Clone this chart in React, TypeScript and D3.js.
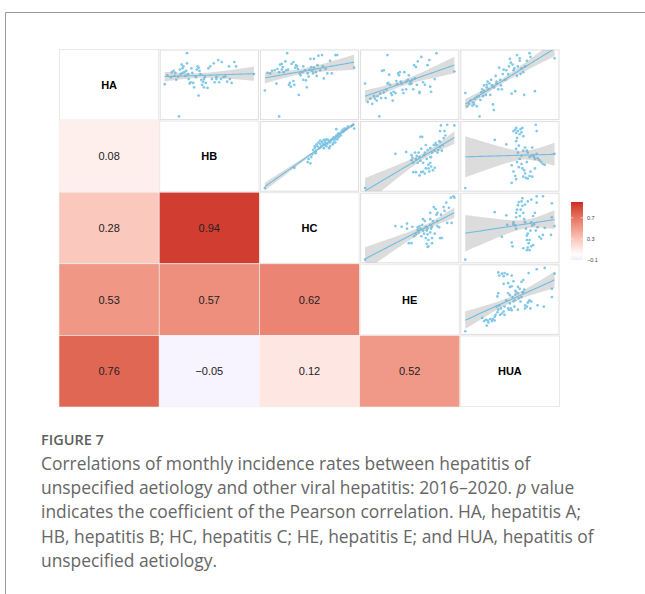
import { useEffect, useRef } from 'react';
import * as d3 from 'd3';

// variable names on the diagonal
const vars = ['HA', 'HB', 'HC', 'HE', 'HUA'];

// lower triangle: Pearson r (row, col)
const corrHB = [0.08];
const corrHC = [0.28, 0.94];
const corrHE = [0.53, 0.57, 0.62];
const corrHUA = [0.76, -0.05, 0.12, 0.52];
const corrRows = [[], corrHB, corrHC, corrHE, corrHUA];

const legendTicks = [-0.1, 0.3, 0.7];
const legendDomain = [-0.1, 1];

const hbVsHa: [number, number][] = [
  [0, 51], [16, 0], [25, 100], [38, 33], [3, 65], [7, 62], [8, 70], [10, 72], [11, 64], [12, 69],
  [13, 58], [15, 63], [17, 74], [18, 67], [19, 82], [20, 76], [20, 69], [21, 79], [22, 70], [23, 64],
  [24, 72], [25, 84], [26, 67], [27, 59], [28, 52], [29, 54], [30, 76], [31, 69], [32, 53], [33, 46],
  [35, 62], [36, 74], [37, 79], [38, 77], [39, 72], [40, 67], [41, 58], [42, 50], [43, 55], [44, 46],
  [44, 59], [45, 62], [46, 53], [48, 45], [49, 76], [51, 79], [53, 59], [55, 84], [56, 54], [58, 59],
  [58, 62], [60, 89], [61, 54], [63, 59], [64, 86], [66, 62], [68, 63], [70, 55], [72, 79], [73, 59],
  [75, 53], [78, 86], [80, 79], [100, 67],
];
const hcVsHa: [number, number][] = [
  [0, 41], [16, 0], [25, 100], [100, 77], [3, 69], [6, 68], [8, 72], [11, 73], [13, 52], [14, 75],
  [16, 70], [17, 82], [19, 74], [19, 83], [20, 78], [21, 70], [23, 87], [24, 73], [26, 74], [27, 50],
  [28, 53], [29, 47], [30, 83], [32, 86], [32, 56], [33, 50], [34, 77], [35, 81], [36, 79], [37, 75],
  [38, 34], [39, 68], [40, 65], [42, 70], [43, 58], [43, 79], [45, 73], [46, 57], [47, 46], [48, 68],
  [49, 63], [50, 74], [51, 91], [52, 78], [53, 72], [54, 68], [55, 91], [55, 77], [57, 70], [58, 64],
  [59, 81], [60, 96], [62, 73], [64, 97], [65, 79], [66, 60], [68, 75], [70, 68], [73, 88], [75, 68],
  [79, 97], [81, 97],
];
const heVsHa: [number, number][] = [
  [0, 52], [16, 0], [25, 97], [100, 71], [80, 100], [3, 23], [6, 28], [8, 20], [10, 32], [11, 28],
  [13, 25], [14, 32], [17, 36], [18, 29], [19, 72], [21, 73], [21, 38], [23, 29], [24, 42], [25, 52],
  [26, 53], [27, 66], [28, 50], [29, 37], [30, 34], [31, 25], [32, 39], [34, 37], [35, 56], [36, 51],
  [37, 68], [38, 65], [39, 70], [40, 55], [41, 52], [42, 42], [43, 37], [44, 70], [46, 55], [46, 43],
  [48, 58], [49, 65], [50, 51], [51, 55], [52, 52], [53, 58], [54, 43], [55, 81], [56, 60], [57, 78],
  [58, 50], [59, 87], [61, 39], [61, 37], [63, 94], [65, 54], [67, 50], [70, 81], [72, 89], [73, 47],
  [74, 39], [78, 59],
];
const huaVsHa: [number, number][] = [
  [0, 37], [2, 16], [4, 20], [6, 25], [8, 17], [9, 22], [10, 19], [11, 28], [13, 16], [13, 31],
  [15, 32], [16, 0], [17, 26], [18, 38], [19, 43], [20, 32], [21, 49], [21, 40], [23, 34], [24, 46],
  [24, 50], [25, 55], [26, 43], [27, 52], [28, 34], [29, 58], [30, 49], [31, 19], [32, 10], [32, 46],
  [34, 64], [35, 55], [35, 52], [37, 43], [38, 77], [39, 58], [40, 49], [41, 43], [42, 67], [43, 74],
  [45, 58], [46, 73], [48, 67], [49, 79], [50, 91], [51, 85], [52, 36], [53, 82], [54, 73], [55, 76],
  [56, 40], [58, 64], [58, 97], [59, 79], [61, 92], [61, 88], [62, 67], [63, 76], [65, 70], [66, 34],
  [67, 79], [69, 88], [72, 100], [73, 94], [78, 40], [100, 92],
];
const hcVsHb: [number, number][] = [
  [0, 0], [33, 32], [48, 41], [49, 46], [51, 39], [52, 49], [53, 53], [54, 60], [56, 63], [56, 66],
  [57, 58], [58, 69], [59, 66], [60, 72], [61, 63], [62, 70], [63, 66], [64, 73], [65, 69], [66, 76],
  [67, 68], [67, 72], [68, 75], [69, 66], [70, 70], [71, 76], [72, 63], [73, 72], [74, 75], [75, 77],
  [76, 69], [77, 80], [78, 76], [79, 79], [79, 72], [80, 83], [80, 93], [81, 77], [82, 80], [83, 81],
  [84, 86], [85, 83], [86, 89], [87, 92], [88, 89], [89, 94], [90, 92], [91, 94], [93, 97], [97, 98],
  [99, 100], [100, 94], [57, 55], [56, 56], [62, 75], [66, 63], [69, 77], [73, 66], [77, 72], [82, 86],
];
const heVsHb: [number, number][] = [
  [0, 0], [34, 54], [46, 57], [52, 52], [52, 44], [53, 48], [54, 40], [56, 56], [57, 46], [58, 51],
  [59, 40], [60, 56], [61, 49], [62, 43], [62, 81], [63, 25], [63, 62], [64, 81], [65, 40], [66, 52],
  [67, 56], [68, 68], [69, 46], [70, 60], [71, 31], [71, 37], [72, 26], [73, 49], [73, 63], [74, 34],
  [75, 56], [76, 28], [77, 68], [78, 59], [78, 32], [79, 71], [80, 68], [81, 56], [82, 60], [83, 74],
  [84, 90], [84, 65], [84, 73], [85, 99], [86, 59], [87, 68], [88, 79], [89, 90], [90, 83], [92, 100],
  [100, 99], [54, 25], [57, 25], [61, 20], [65, 26], [68, 31], [67, 23], [73, 40], [74, 49],
];
const huaVsHb: [number, number][] = [
  [0, 0], [33, 76], [46, 69], [52, 36], [54, 90], [56, 92], [57, 87], [57, 95], [58, 79], [59, 90],
  [60, 67], [61, 85], [62, 93], [63, 88], [64, 95], [65, 82], [57, 74], [57, 62], [59, 56], [61, 46],
  [58, 41], [60, 33], [63, 38], [64, 31], [66, 28], [67, 23], [65, 18], [68, 16], [70, 15], [72, 19],
  [73, 26], [75, 18], [78, 31], [54, 26], [56, 19], [57, 14], [63, 51], [65, 59], [67, 64], [69, 59],
  [70, 56], [72, 49], [74, 51], [76, 52], [77, 49], [78, 46], [80, 54], [81, 47], [83, 44], [85, 41],
  [87, 38], [89, 37], [75, 64], [80, 90], [79, 100], [100, 54], [69, 41], [52, 8],
];
const heVsHc: [number, number][] = [
  [0, 0], [34, 53], [41, 52], [47, 57], [47, 49], [49, 26], [52, 26], [53, 52], [55, 37], [57, 40],
  [59, 47], [59, 51], [60, 43], [61, 53], [62, 49], [63, 37], [64, 55], [65, 46], [66, 41], [67, 61],
  [68, 52], [68, 34], [69, 25], [70, 49], [70, 20], [70, 40], [71, 31], [73, 55], [73, 64], [73, 43],
  [74, 49], [75, 52], [75, 34], [76, 61], [77, 83], [78, 41], [79, 80], [80, 71], [81, 61], [81, 53],
  [83, 51], [84, 34], [85, 71], [86, 34], [88, 83], [89, 77], [91, 90], [94, 82], [96, 98], [99, 100],
  [100, 98], [97, 58], [92, 58], [71, 21], [75, 26], [69, 46], [65, 64], [73, 74], [81, 74],
];
const huaVsHc: [number, number][] = [
  [0, 0], [33, 75], [41, 36], [46, 70], [47, 55], [52, 27], [53, 21], [54, 56], [54, 59], [56, 54],
  [57, 67], [57, 74], [58, 79], [59, 86], [60, 91], [61, 69], [62, 79], [63, 92], [64, 85], [65, 74],
  [66, 64], [67, 59], [67, 87], [68, 49], [69, 38], [69, 31], [70, 19], [70, 41], [71, 26], [72, 31],
  [73, 46], [74, 59], [75, 54], [76, 69], [77, 56], [78, 74], [79, 46], [80, 90], [81, 51], [83, 36],
  [85, 33], [87, 39], [89, 50], [96, 39], [97, 89], [97, 67], [100, 53], [69, 15], [72, 15], [74, 21],
  [76, 23], [57, 49], [64, 97], [70, 92], [74, 95], [80, 100], [87, 100], [65, 18],
];
const huaVsHe: [number, number][] = [
  [0, 0], [19, 21], [21, 16], [23, 18], [24, 9], [25, 17], [26, 14], [28, 19], [30, 16], [31, 19],
  [33, 17], [33, 23], [34, 26], [35, 39], [36, 30], [37, 34], [38, 41], [39, 26], [40, 36], [41, 28],
  [43, 31], [44, 39], [44, 26], [46, 49], [48, 36], [49, 34], [50, 44], [51, 36], [52, 33], [53, 54],
  [54, 47], [55, 39], [56, 49], [56, 58], [57, 62], [59, 34], [59, 60], [60, 52], [61, 67], [62, 47],
  [63, 54], [64, 62], [65, 61], [66, 66], [67, 41], [67, 36], [69, 39], [70, 45], [71, 47], [72, 49],
  [73, 36], [74, 47], [81, 41], [88, 39], [37, 93], [38, 88], [41, 91], [43, 87], [44, 92], [47, 90],
  [52, 88], [43, 75], [48, 76], [50, 70], [52, 71], [54, 79], [56, 64], [59, 70], [63, 78], [65, 81],
  [71, 92], [80, 98], [89, 100], [97, 67], [97, 54], [100, 91], [37, 60], [36, 55], [48, 60], [50, 57],
];

// key `${row}-${col}`
const scatterPanels: Record<string, [number, number][]> = {
  '0-1': hbVsHa, '0-2': hcVsHa, '0-3': heVsHa, '0-4': huaVsHa,
  '1-2': hcVsHb, '1-3': heVsHb, '1-4': huaVsHb,
  '2-3': heVsHc, '2-4': huaVsHc,
  '3-4': huaVsHe,
};

const captionTitle = 'FIGURE 7';
const captionLines = [
  'Correlations of monthly incidence rates between hepatitis of',
  'unspecified aetiology and other viral hepatitis: 2016\u20132020. |p| value',
  'indicates the coefficient of the Pearson correlation. HA, hepatitis A;',
  'HB, hepatitis B; HC, hepatitis C; HE, hepatitis E; and HUA, hepatitis of',
  'unspecified aetiology.',
];

const W = 645;
const H = 594;

export default function App() {
  const svgRef = useRef<SVGSVGElement>(null);

  useEffect(() => {
    if (!svgRef.current) return;
    const svg = d3.select(svgRef.current);
    svg.selectAll('*').remove();
    const defs = svg.append('defs');

    const grid = { x: 59, y: 49, w: 501, h: 358 };
    const n = vars.length;
    const xBand = d3.scaleBand<number>().domain(d3.range(n)).range([grid.x, grid.x + grid.w]);
    const yBand = d3.scaleBand<number>().domain(d3.range(n)).range([grid.y, grid.y + grid.h]);
    const cw = xBand.bandwidth();
    const ch = yBand.bandwidth();

    const color = d3.scaleLinear<string>()
      .domain([-1, 0, 1])
      .range(['#1f1fff', '#ffffff', '#cd2a26'])
      .interpolate(d3.interpolateLab);
    const fmt = d3.format('.2f');

    // outer frame
    svg.append('path')
      .attr('d', `M5.5,${H} V12.5 H${W}`)
      .attr('fill', 'none')
      .attr('stroke', '#9a9a9a')
      .attr('stroke-width', 1);

    const g = svg.append('g');

    for (let r = 0; r < n; r++) {
      for (let c = 0; c < n; c++) {
        const x0 = xBand(c)!;
        const y0 = yBand(r)!;
        if (c < r) {
          const v = corrRows[r][c];
          g.append('rect')
            .attr('x', x0).attr('y', y0).attr('width', cw).attr('height', ch)
            .attr('fill', color(v))
            .attr('stroke', '#f2f2f2').attr('stroke-width', 0.6);
          g.append('text')
            .attr('x', x0 + cw / 2).attr('y', y0 + ch / 2)
            .attr('text-anchor', 'middle').attr('dominant-baseline', 'central')
            .attr('font-family', 'Liberation Sans, Arial, sans-serif')
            .attr('font-size', 11).attr('fill', '#222')
            .text(fmt(v));
        } else if (c === r) {
          g.append('rect')
            .attr('x', x0 + 0.5).attr('y', y0 + 0.5).attr('width', cw - 1).attr('height', ch - 1)
            .attr('fill', '#fff').attr('stroke', '#e8e8e8').attr('stroke-width', 1);
          g.append('text')
            .attr('x', x0 + cw / 2).attr('y', y0 + ch / 2)
            .attr('text-anchor', 'middle').attr('dominant-baseline', 'central')
            .attr('font-family', 'Liberation Sans, Arial, sans-serif')
            .attr('font-size', 11).attr('font-weight', 700).attr('fill', '#000')
            .text(vars[r]);
        } else {
          const pts = scatterPanels[`${r}-${c}`];
          g.append('rect')
            .attr('x', x0 + 1).attr('y', y0 + 1).attr('width', cw - 2).attr('height', ch - 2)
            .attr('fill', '#fff').attr('stroke', '#dedede').attr('stroke-width', 1);

          const clipId = `clip-${r}-${c}`;
          defs.append('clipPath').attr('id', clipId)
            .append('rect')
            .attr('x', x0 + 1).attr('y', y0 + 1).attr('width', cw - 2).attr('height', ch - 2);

          const [xmin, xmax] = d3.extent(pts, d => d[0]) as [number, number];
          const [ymin, ymax] = d3.extent(pts, d => d[1]) as [number, number];
          const xPad = (xmax - xmin) * 0.05;
          const yPad = (ymax - ymin) * 0.05;
          const xs = d3.scaleLinear().domain([xmin - xPad, xmax + xPad]).range([x0 + 1, x0 + cw - 1]);
          const ys = d3.scaleLinear().domain([ymin - yPad, ymax + yPad]).range([y0 + ch - 1, y0 + 1]);

          // linear fit with 95% confidence band
          const m = pts.length;
          const mx = d3.mean(pts, d => d[0])!;
          const my = d3.mean(pts, d => d[1])!;
          const sxx = d3.sum(pts, d => (d[0] - mx) ** 2);
          const sxy = d3.sum(pts, d => (d[0] - mx) * (d[1] - my));
          const b = sxy / sxx;
          const a = my - b * mx;
          const s = Math.sqrt(d3.sum(pts, d => (d[1] - a - b * d[0]) ** 2) / (m - 2));
          const t = 2.0;
          const fitPts = d3.range(0, 81).map(i => {
            const x = xmin + (xmax - xmin) * i / 80;
            const yhat = a + b * x;
            const se = s * Math.sqrt(1 / m + (x - mx) ** 2 / sxx);
            return { x, yhat, lo: yhat - t * se, hi: yhat + t * se };
          });

          const pg = g.append('g');
          pg.append('g').selectAll('circle')
            .data(pts).enter().append('circle')
            .attr('cx', d => xs(d[0])).attr('cy', d => ys(d[1]))
            .attr('r', 1.35).attr('fill', '#80c8e8');

          const fg = pg.append('g').attr('clip-path', `url(#${clipId})`);
          fg.append('path')
            .datum(fitPts)
            .attr('fill', '#9a9a9a').attr('fill-opacity', 0.35)
            .attr('d', d3.area<typeof fitPts[number]>()
              .x(d => xs(d.x)).y0(d => ys(d.lo)).y1(d => ys(d.hi)));

          fg.append('path')
            .datum(fitPts)
            .attr('fill', 'none').attr('stroke', '#6fbde2').attr('stroke-width', 1.1)
            .attr('d', d3.line<typeof fitPts[number]>().x(d => xs(d.x)).y(d => ys(d.yhat)));
        }
      }
    }

    // legend colour bar
    const leg = { x: 571, y: 202, w: 12, h: 58 };
    const ly = d3.scaleLinear().domain(legendDomain).range([leg.y + leg.h, leg.y]);
    const grad = defs.append('linearGradient').attr('id', 'corr-legend')
      .attr('x1', '0%').attr('y1', '100%').attr('x2', '0%').attr('y2', '0%');
    d3.range(0, 21).forEach(i => {
      const v = legendDomain[0] + (legendDomain[1] - legendDomain[0]) * i / 20;
      grad.append('stop').attr('offset', `${i * 5}%`).attr('stop-color', color(v));
    });
    svg.append('rect')
      .attr('x', leg.x).attr('y', leg.y).attr('width', leg.w).attr('height', leg.h)
      .attr('fill', 'url(#corr-legend)');
    legendTicks.forEach(tk => {
      const yy = ly(tk);
      svg.append('line').attr('x1', leg.x).attr('x2', leg.x + 2.4).attr('y1', yy).attr('y2', yy)
        .attr('stroke', '#fff').attr('stroke-width', 0.6);
      svg.append('line').attr('x1', leg.x + leg.w - 2.4).attr('x2', leg.x + leg.w).attr('y1', yy).attr('y2', yy)
        .attr('stroke', '#fff').attr('stroke-width', 0.6);
      svg.append('text')
        .attr('x', leg.x + leg.w + 4).attr('y', yy)
        .attr('dominant-baseline', 'central')
        .attr('font-family', 'Liberation Sans, Arial, sans-serif')
        .attr('font-size', 5.5).attr('fill', '#444')
        .text(d3.format('.1f')(tk));
    });

    // caption
    svg.append('text')
      .attr('x', 41).attr('y', 445)
      .attr('font-family', 'Open Sans, sans-serif')
      .attr('font-size', 14.5).attr('font-weight', 600).attr('fill', '#5e5e5e')
      .text(captionTitle);

    captionLines.forEach((line, i) => {
      const txt = svg.append('text')
        .attr('x', 41).attr('y', 470 + i * 24.2)
        .attr('font-family', 'Open Sans, sans-serif')
        .attr('font-size', 17.4).attr('fill', '#666');
      line.split('|').forEach((part, k) => {
        txt.append('tspan').attr('font-style', k % 2 === 1 ? 'italic' : 'normal').text(part);
      });
    });
  }, []);

  return (
    <svg
      ref={svgRef}
      width={W}
      height={H}
      style={{ position: 'absolute', left: 0, top: 0, display: 'block', background: '#fff' }}
    />
  );
}
